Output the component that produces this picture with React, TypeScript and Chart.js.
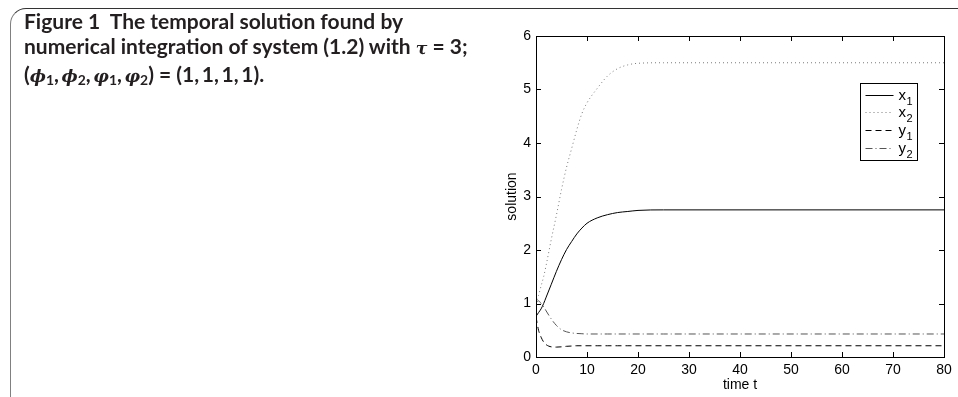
import React, { useEffect, useRef } from "react";
import { Chart, registerables } from "chart.js";

Chart.register(...registerables);

// ---- data ----
const times = [0, 0.5, 1, 1.5, 2, 3, 4, 5, 6, 7, 8, 9, 10, 12, 14, 16, 18, 20, 25, 30, 40, 50, 60, 70, 80];
const x1Values = [0.76, 0.83, 0.9, 1.0, 1.12, 1.36, 1.6, 1.82, 2.01, 2.16, 2.3, 2.41, 2.5, 2.6, 2.66, 2.7, 2.72, 2.74, 2.75, 2.75, 2.75, 2.75, 2.75, 2.75, 2.75];
const x2Values = [1.0, 1.15, 1.33, 1.5, 1.72, 2.2, 2.65, 3.13, 3.55, 3.9, 4.25, 4.55, 4.75, 5.02, 5.25, 5.39, 5.46, 5.49, 5.5, 5.5, 5.5, 5.5, 5.5, 5.5, 5.5];
const y1Values = [0.75, 0.5, 0.37, 0.28, 0.23, 0.19, 0.185, 0.19, 0.2, 0.205, 0.21, 0.21, 0.21, 0.21, 0.21, 0.21, 0.21, 0.21, 0.21, 0.21, 0.21, 0.21, 0.21, 0.21, 0.21];
const y2Values = [1.02, 1.05, 1.0, 0.94, 0.86, 0.71, 0.59, 0.51, 0.47, 0.45, 0.44, 0.435, 0.43, 0.43, 0.43, 0.43, 0.43, 0.43, 0.43, 0.43, 0.43, 0.43, 0.43, 0.43, 0.43];
const seriesNames = ["x", "x", "y", "y"];
const seriesSubs = ["1", "2", "1", "2"];
const xTickValues = [0, 10, 20, 30, 40, 50, 60, 70, 80];
const yTickValues = [0, 1, 2, 3, 4, 5, 6];

const FONT = "'Liberation Sans', Arial, Helvetica, sans-serif";

const toPoints = (vals: number[]) => vals.map((v, i) => ({ x: times[i], y: v }));

const matlabPlugin = {
  id: "matlabFrame",
  afterDatasetsDraw(chart: any) {
    const { ctx, chartArea } = chart;
    const { left, right, top, bottom } = chartArea;
    const xs = chart.scales.x;
    const ys = chart.scales.y;
    ctx.save();
    ctx.strokeStyle = "#000";
    ctx.lineWidth = 1;
    ctx.setLineDash([]);
    // box
    ctx.strokeRect(Math.round(left) + 0.5, Math.round(top) + 0.5, Math.round(right - left), Math.round(bottom - top));
    // inward ticks
    const tl = 5;
    ctx.beginPath();
    xTickValues.forEach((v) => {
      if (v === xs.min || v === xs.max) return;
      const px = Math.round(xs.getPixelForValue(v)) + 0.5;
      ctx.moveTo(px, bottom);
      ctx.lineTo(px, bottom - tl);
      ctx.moveTo(px, top);
      ctx.lineTo(px, top + tl);
    });
    yTickValues.forEach((v) => {
      if (v === ys.min || v === ys.max) return;
      const py = Math.round(ys.getPixelForValue(v)) + 0.5;
      ctx.moveTo(left, py);
      ctx.lineTo(left + tl, py);
      ctx.moveTo(right, py);
      ctx.lineTo(right - tl, py);
    });
    ctx.stroke();

    // legend box
    const bw = 57;
    const bh = 77;
    const bx = Math.round(right - 27 - bw) + 0.5;
    const by = Math.round(top + 47) + 0.5;
    ctx.fillStyle = "#fff";
    ctx.fillRect(bx, by, bw, bh);
    ctx.strokeStyle = "#000";
    ctx.strokeRect(bx, by, bw, bh);
    chart.data.datasets.forEach((ds: any, i: number) => {
      const ry = Math.round(by + 11 + i * 17.7) + 0.5;
      ctx.beginPath();
      ctx.strokeStyle = ds.borderColor;
      ctx.lineWidth = ds.borderWidth;
      ctx.setLineDash(ds.borderDash || []);
      ctx.moveTo(bx + 5, ry);
      ctx.lineTo(bx + 33, ry);
      ctx.stroke();
      ctx.setLineDash([]);
      ctx.fillStyle = "#000";
      ctx.textAlign = "left";
      ctx.textBaseline = "alphabetic";
      ctx.font = `15px ${FONT}`;
      ctx.fillText(seriesNames[i], bx + 38, ry + 4);
      ctx.font = `11px ${FONT}`;
      ctx.fillText(seriesSubs[i], bx + 46, ry + 9);
    });
    ctx.restore();
  },
};

export default function App() {
  const canvasRef = useRef<HTMLCanvasElement | null>(null);

  useEffect(() => {
    const canvas = canvasRef.current;
    if (!canvas) return;
    const tickFont = { family: FONT, size: 14 };
    const chart = new Chart(canvas, {
      type: "line",
      data: {
        datasets: [
          { label: "x1", data: toPoints(x1Values), borderColor: "#000", borderWidth: 1, borderDash: [], cubicInterpolationMode: "monotone" },
          { label: "x2", data: toPoints(x2Values), borderColor: "#7a7a7a", borderWidth: 1, borderDash: [1, 3], cubicInterpolationMode: "monotone" },
          { label: "y1", data: toPoints(y1Values), borderColor: "#000", borderWidth: 1, borderDash: [6, 4], cubicInterpolationMode: "monotone" },
          { label: "y2", data: toPoints(y2Values), borderColor: "#555", borderWidth: 1, borderDash: [7, 3, 1, 3], cubicInterpolationMode: "monotone" },
        ],
      } as any,
      options: {
        animation: false,
        responsive: false,
        maintainAspectRatio: false,
        layout: { padding: { left: 486, top: 36, right: 14, bottom: 0 } },
        elements: { point: { radius: 0 } },
        plugins: { legend: { display: false }, tooltip: { enabled: false } },
        scales: {
          x: {
            type: "linear",
            min: 0,
            max: 80,
            grid: { display: false, drawTicks: false },
            border: { display: false },
            afterBuildTicks: (s: any) => {
              s.ticks = xTickValues.map((v) => ({ value: v }));
            },
            ticks: { color: "#000", font: tickFont, padding: 5, maxRotation: 0 },
            title: { display: true, text: "time t", color: "#000", font: tickFont, padding: { top: 0, bottom: 3 } },
            afterFit: (s: any) => {
              s.height = 40;
            },
          },
          y: {
            type: "linear",
            min: 0,
            max: 6,
            grid: { display: false, drawTicks: false },
            border: { display: false },
            afterBuildTicks: (s: any) => {
              s.ticks = yTickValues.map((v) => ({ value: v }));
            },
            ticks: { color: "#000", font: tickFont, padding: 5 },
            title: { display: true, text: "solution", color: "#000", font: tickFont, padding: { top: 18, bottom: 0 } },
            afterFit: (s: any) => {
              s.width = 50;
            },
          },
        },
      } as any,
      plugins: [matlabPlugin],
    });
    return () => chart.destroy();
  }, []);

  const subStyle: React.CSSProperties = { fontSize: "0.66em", verticalAlign: "-0.22em", lineHeight: 0, fontStyle: "normal" };
  const mathStyle: React.CSSProperties = { fontFamily: "'DejaVu Serif', serif", fontStyle: "italic", fontWeight: 700, fontSize: "0.82em" };

  return (
    <div style={{ position: "fixed", left: 0, top: 0, width: 958, height: 397, overflow: "hidden", background: "#fff" }}>
      <div
        style={{
          position: "absolute",
          left: 10,
          top: 8,
          width: 1100,
          height: 600,
          borderTop: "1px solid #333",
          borderLeft: "1px solid #808080",
          borderTopLeftRadius: 16,
        }}
      />
      <canvas ref={canvasRef} width={958} height={397} style={{ position: "absolute", left: 0, top: 0, width: 958, height: 397 }} />
      <div
        style={{
          position: "absolute",
          left: 24,
          top: 8,
          fontFamily: "Lato, 'Noto Sans', sans-serif",
          fontWeight: 700,
          fontSize: 21,
          lineHeight: "25px",
          color: "#231f20",
          whiteSpace: "nowrap",
        }}
      >
        Figure 1&nbsp;&nbsp;The temporal solution found by
        <br />
        numerical integration of system (1.2) with <span style={mathStyle}>τ</span> = 3;
        <br />
        (<span style={mathStyle}>ϕ</span>
        <span style={subStyle}>1</span>,{"\u2009"}<span style={mathStyle}>ϕ</span>
        <span style={subStyle}>2</span>,{"\u2009"}<span style={mathStyle}>φ</span>
        <span style={subStyle}>1</span>,{"\u2009"}<span style={mathStyle}>φ</span>
        <span style={subStyle}>2</span>) = (1,{"\u2009"}1,{"\u2009"}1,{"\u2009"}1).
      </div>
    </div>
  );
}
